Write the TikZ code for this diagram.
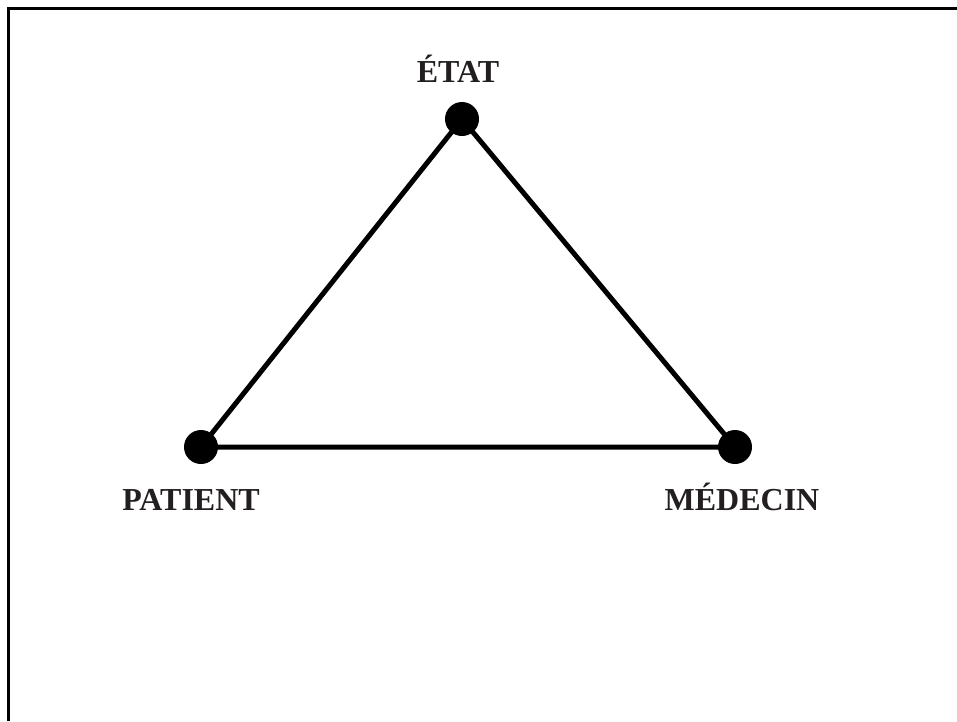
\documentclass[tikz,border=0pt]{standalone}
\usepackage{fontspec}
\setmainfont{Liberation Serif}
\definecolor{labelgray}{HTML}{231F20}
\begin{document}
\begin{tikzpicture}[x=1pt,y=-1pt,
  vertex/.style={circle,fill=black,inner sep=0pt,minimum size=34pt},
  edge/.style={line width=5pt,black},
  lbl/.style={anchor=base,inner sep=0pt,text=labelgray,font=\fontsize{32}{32}\selectfont\bfseries},
  frameline/.style={line width=3pt,black}]
\useasboundingbox (0,0) rectangle (957,721);
\coordinate (fa) at (8.5,721);
\coordinate (fb) at (8.5,8.5);
\coordinate (fc) at (957,8.5);
\draw[frameline] (fa) -- (fb) -- (fc);
\node[vertex] (etat) at (462,119) {};
\node[vertex] (patient) at (201,447) {};
\node[vertex] (medecin) at (735,447) {};
\draw[edge] (etat.center) -- (patient.center) -- (medecin.center) -- cycle;
\node[lbl] (tetat) at (458,82) {ÉTAT};
\node[lbl] (tpatient) at (191,510) {PATIENT};
\node[lbl] (tmedecin) at (742,510) {MÉDECIN};
\end{tikzpicture}
\end{document}
